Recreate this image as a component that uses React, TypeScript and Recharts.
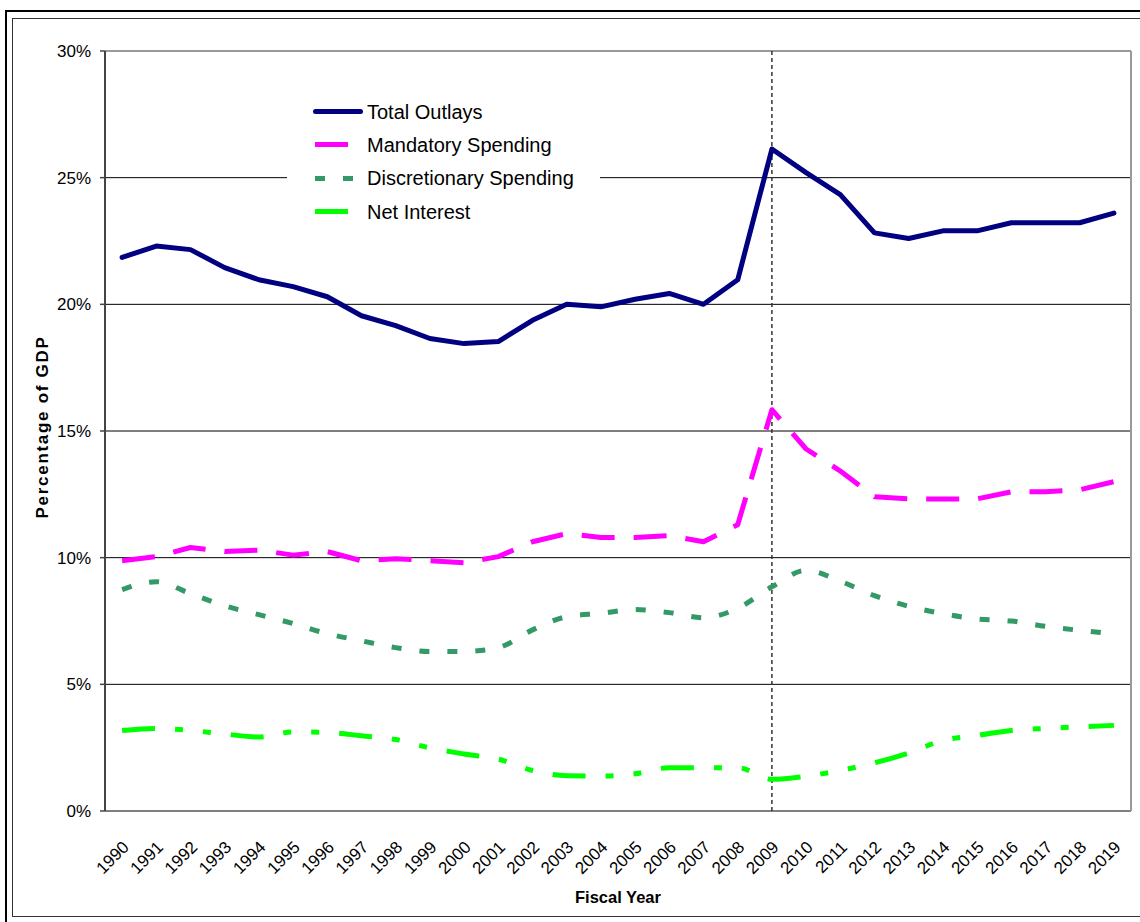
import { CartesianGrid, Legend, Line, LineChart, ReferenceLine, XAxis, YAxis } from 'recharts';

const FONT = "Arial, 'Liberation Sans', Helvetica, sans-serif";

const years = [
  '1990', '1991', '1992', '1993', '1994', '1995', '1996', '1997', '1998', '1999',
  '2000', '2001', '2002', '2003', '2004', '2005', '2006', '2007', '2008', '2009',
  '2010', '2011', '2012', '2013', '2014', '2015', '2016', '2017', '2018', '2019',
];

const totalOutlays = [
  21.85, 22.3, 22.16, 21.45, 20.97, 20.7, 20.3, 19.55, 19.16, 18.65,
  18.45, 18.53, 19.37, 20.0, 19.9, 20.2, 20.43, 20.0, 20.97, 26.13,
  25.2, 24.33, 22.82, 22.6, 22.9, 22.9, 23.22, 23.22, 23.22, 23.6,
];

const mandatorySpending = [
  9.88, 10.04, 10.4, 10.24, 10.3, 10.1, 10.24, 9.88, 9.96, 9.88,
  9.8, 10.04, 10.63, 10.95, 10.8, 10.8, 10.87, 10.63, 11.3, 15.84,
  14.29, 13.42, 12.4, 12.32, 12.32, 12.32, 12.6, 12.6, 12.68, 13.0,
];

const discretionarySpending = [
  8.74, 9.05, 8.58, 8.1, 7.75, 7.4, 7.0, 6.72, 6.45, 6.3,
  6.3, 6.45, 7.15, 7.67, 7.8, 7.95, 7.83, 7.63, 8.0, 8.85,
  9.5, 9.07, 8.5, 8.08, 7.79, 7.58, 7.5, 7.29, 7.13, 7.0,
];

const netInterest = [
  3.18, 3.26, 3.18, 3.04, 2.92, 3.12, 3.1, 2.97, 2.82, 2.49,
  2.25, 2.05, 1.6, 1.39, 1.38, 1.47, 1.71, 1.71, 1.71, 1.25,
  1.37, 1.6, 1.9, 2.29, 2.79, 2.98, 3.18, 3.26, 3.32, 3.38,
];

const yTicks = [0, 5, 10, 15, 20, 25, 30];
const markerYear = '2009';

const data = years.map((year, i) => ({
  pos: i + 0.5,
  year,
  total: totalOutlays[i],
  mandatory: mandatorySpending[i],
  discretionary: discretionarySpending[i],
  interest: netInterest[i],
}));

const labelTicks = years.map((_, i) => i + 0.5);
const boundaryTicks = [...years.map((_, i) => i), years.length];

const series = [
  { key: 'total', label: 'Total Outlays', colour: '#000080', dash: undefined as string | undefined, curve: 'linear' as const },
  { key: 'mandatory', label: 'Mandatory Spending', colour: '#FF00FF', dash: '33 19', curve: 'linear' as const },
  { key: 'discretionary', label: 'Discretionary Spending', colour: '#339966', dash: '10 18', curve: 'monotone' as const },
  { key: 'interest', label: 'Net Interest', colour: '#00FF00', dash: '33 20 8 20 8 20', curve: 'monotone' as const },
];

function LegendBox() {
  return (
    <div style={{ background: '#fff', width: 313, paddingTop: 0, fontFamily: FONT }}>
      {series.map((s) => (
        <div key={s.key} style={{ display: 'flex', alignItems: 'center', height: 33.3 }}>
          <svg width={80} height={33} style={{ display: 'block', flex: 'none' }}>
            <line
              x1={s.dash ? 28 : 28.5}
              x2={s.dash ? 74 : 73.5}
              y1={16.5}
              y2={16.5}
              stroke={s.colour}
              strokeWidth={5}
              strokeDasharray={s.dash}
              strokeLinecap={s.dash ? 'butt' : 'round'}
            />
          </svg>
          <span style={{ fontSize: 20, color: '#000', lineHeight: 1, whiteSpace: 'nowrap' }}>{s.label}</span>
        </div>
      ))}
    </div>
  );
}

function YTitle(props: any) {
  const vb = props.viewBox;
  const cx = vb.x + vb.width / 2 - 10;
  const cy = vb.y + vb.height / 2 - 4;
  return (
    <text
      x={cx}
      y={cy}
      transform={`rotate(-90 ${cx} ${cy})`}
      textAnchor="middle"
      dominantBaseline="central"
      fontSize={17}
      fontWeight="bold"
      letterSpacing={1.7}
      fill="#000"
      fontFamily={FONT}
    >
      Percentage of GDP
    </text>
  );
}

function YearTick(props: any) {
  const { x, y, payload } = props;
  return (
    <text
      x={x - 1}
      y={y}
      dy="0.71em"
      transform={`rotate(-45 ${x} ${y})`}
      textAnchor="end"
      fontSize={17}
      fill="#000"
      fontFamily={FONT}
    >
      {years[Math.floor(payload.value)]}
    </text>
  );
}

function PercentTick(props: any) {
  const { x, y, payload } = props;
  return (
    <text x={x} y={y} dy="0.35em" textAnchor="end" fontSize={17} fill="#000" fontFamily={FONT}>
      {`${payload.value}%`}
    </text>
  );
}

export default function App() {
  const markerPos = years.indexOf(markerYear) + 0.5;
  return (
    <div style={{ position: 'absolute', left: 0, top: 0, width: 1140, height: 922, overflow: 'hidden', background: '#fff' }}>
      <div style={{ position: 'absolute', left: 5, top: 10, width: 1200, height: 960, border: '2px solid #000' }} />
      <div style={{ position: 'absolute', left: 12, top: 18, width: 1200, height: 897, border: '1.5px solid #333' }} />
      <div style={{ position: 'absolute', left: 0, top: 0 }}>
        <LineChart
          width={1140}
          height={922}
          data={data}
          margin={{ top: 51, right: 9, left: 0, bottom: 11 }}
          style={{ fontFamily: FONT }}
        >
          <CartesianGrid vertical={false} stroke="#000" strokeWidth={1} xAxisId="years" />
          <XAxis
            xAxisId="bounds"
            type="number"
            dataKey="pos"
            domain={[0, years.length]}
            ticks={boundaryTicks}
            tick={false}
            tickSize={7}
            height={0}
            axisLine={{ stroke: '#444', strokeWidth: 2 }}
            tickLine={{ stroke: '#444', strokeWidth: 1.5 }}
          />
          <XAxis
            xAxisId="years"
            type="number"
            dataKey="pos"
            domain={[0, years.length]}
            ticks={labelTicks}
            interval={0}
            axisLine={false}
            tickLine={false}
            tickSize={0}
            tickMargin={28}
            height={100}
            tick={YearTick}
            label={{ value: 'Fiscal Year', position: 'center', dy: 36, fontSize: 16.5, fontWeight: 'bold', fill: '#000' }}
          />
          <YAxis
            type="number"
            domain={[0, 30]}
            ticks={yTicks}
            width={105}
            tickSize={5}
            tickMargin={9}
            tick={PercentTick}
            axisLine={{ stroke: '#444', strokeWidth: 2 }}
            tickLine={{ stroke: '#444', strokeWidth: 1.5 }}
            label={{ content: YTitle }}
          />
          <ReferenceLine y={30} xAxisId="years" stroke="#999" strokeWidth={2} />
          <ReferenceLine x={years.length} xAxisId="years" stroke="#999" strokeWidth={2} />
          <ReferenceLine x={markerPos} xAxisId="years" stroke="#333" strokeWidth={1.5} strokeDasharray="4 3" />
          {series.map((s) => (
            <Line
              key={s.key}
              xAxisId="years"
              type={s.curve}
              dataKey={s.key}
              name={s.label}
              stroke={s.colour}
              strokeWidth={5}
              strokeDasharray={s.dash}
              strokeLinejoin="round"
              strokeLinecap={s.dash ? 'butt' : 'round'}
              dot={false}
              activeDot={false}
              isAnimationActive={false}
            />
          ))}
          <Legend
            layout="horizontal"
            align="center"
            verticalAlign="middle"
            content={() => <LegendBox />}
            wrapperStyle={{ left: 287, top: 95, width: 313, height: 134, background: '#fff' }}
          />
        </LineChart>
      </div>
    </div>
  );
}
